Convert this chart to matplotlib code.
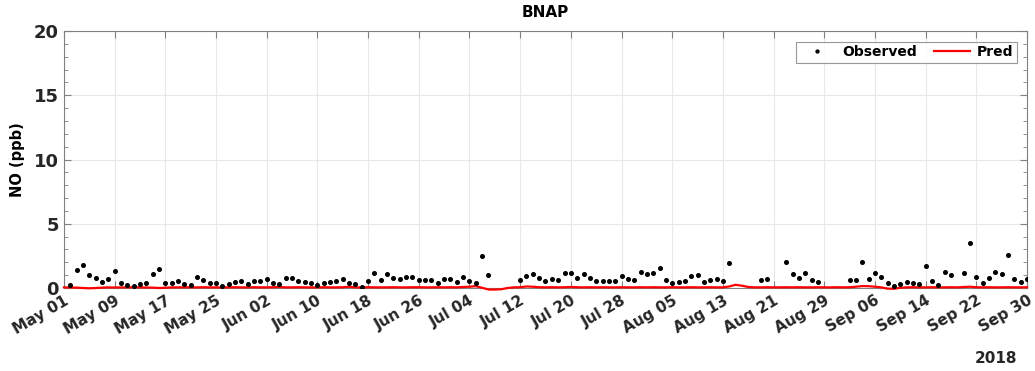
import numpy as np
import pandas as pd
import matplotlib
matplotlib.use("Agg")
import matplotlib.pyplot as plt
import matplotlib.dates as mdates
from matplotlib.ticker import MultipleLocator

# ---------------- data ----------------
start_date = "2018-05-01"
end_date = "2018-09-30"
title = "BNAP"
ylabel = "NO (ppb)"
year_label = "2018"
nan = np.nan

observed = [
    nan, 0.2, 1.4, 1.8, 1.0, 0.8, 0.47, 0.73, 1.33, 0.42,
    0.26, 0.13, 0.31, 0.36, 1.07, 1.5, 0.36, 0.36, 0.52, 0.31,
    0.23, 0.86, 0.65, 0.36, 0.36, 0.18, 0.31, 0.49, 0.57, 0.31,
    0.55, 0.57, 0.68, 0.42, 0.34, 0.81, 0.81, 0.52, 0.49, 0.39,
    0.26, 0.39, 0.44, 0.57, 0.70, 0.42, 0.31, 0.08, 0.52, 1.2,
    0.65, 1.07, 0.76, 0.73, 0.83, 0.86, 0.60, 0.60, 0.60, 0.36,
    0.68, 0.68, 0.49, 0.86, 0.55, 0.42, 2.5, 0.99, nan, nan,
    nan, nan, 0.62, 0.91, 1.12, 0.8, 0.55, 0.73, 0.65, 1.17,
    1.17, 0.81, 1.09, 0.76, 0.55, 0.55, 0.55, 0.55, 0.91, 0.73,
    0.62, 1.22, 1.09, 1.17, 1.54, 0.60, 0.39, 0.47, 0.55, 0.94,
    0.99, 0.47, 0.65, 0.70, 0.55, 1.95, nan, nan, nan, nan,
    0.65, 0.70, nan, nan, 2.03, 1.07, 0.81, 1.17, 0.65, 0.47,
    nan, nan, nan, nan, 0.60, 0.60, 2.0, 0.68, 1.2, 0.88,
    0.39, 0.18, 0.34, 0.44, 0.39, 0.34, 1.69, 0.55, 0.23, 1.27,
    1.02, nan, 1.17, 3.5, 0.86, 0.39, 0.81, 1.22, 1.12, 2.58,
    0.68, 0.49, 0.68,
]

pred = [
    0.05, 0.04, 0.03, 0.0, -0.02, 0.0, 0.03, 0.05, 0.04, 0.05,
    0.05, 0.06, 0.05, 0.04, 0.03, 0.0, 0.02, 0.05, 0.05, 0.06,
    0.05, 0.05, 0.06, 0.05, 0.05, 0.04, 0.05, 0.06, 0.05, 0.05,
    0.06, 0.05, 0.05, 0.06, 0.08, 0.05, 0.05, 0.06, 0.05, 0.05,
    0.05, 0.06, 0.05, 0.05, 0.06, 0.10, 0.05, 0.04, 0.06, 0.05,
    0.05, 0.05, 0.06, 0.05, 0.05, 0.06, 0.06, 0.05, 0.05, 0.06,
    0.05, 0.06, 0.05, 0.08, 0.10, 0.14, 0.02, -0.12, -0.12, -0.10,
    0.0, 0.05, 0.06, 0.12, 0.10, 0.06, 0.05, 0.06, 0.05, 0.06,
    0.08, 0.06, 0.05, 0.06, 0.05, 0.06, 0.05, 0.05, 0.06, 0.05,
    0.05, 0.06, 0.05, 0.06, 0.05, 0.05, 0.06, 0.05, 0.05, 0.06,
    0.05, 0.05, 0.06, 0.05, 0.05, 0.12, 0.25, 0.18, 0.08, 0.05,
    0.05, 0.06, 0.05, 0.05, 0.06, 0.05, 0.06, 0.05, 0.05, 0.06,
    0.05, 0.05, 0.06, 0.05, 0.06, 0.10, 0.15, 0.14, 0.10, 0.05,
    -0.05, -0.06, 0.02, 0.05, 0.06, 0.05, 0.05, 0.06, 0.05, 0.05,
    0.06, 0.05, 0.08, 0.10, 0.06, 0.05, 0.06, 0.05, 0.05, 0.06,
    0.05, 0.05, 0.06,
]

dates = pd.date_range(start_date, end_date, freq="D")

# ---------------- figure ----------------
fig = plt.figure(figsize=(10.35, 3.71), dpi=100)
ax = fig.add_axes([0.0618, 0.2237, 0.9305, 0.6927])

ax.plot(dates, observed, linestyle="none", marker="o", markersize=2.6,
        color="black", label="Observed", zorder=4)
ax.plot(dates, pred, color="red", linewidth=1.6, label="Pred", zorder=3,
        clip_on=False)

ax.set_xlim(dates[0], dates[-1])
ax.set_ylim(0, 20)
ax.yaxis.set_major_locator(MultipleLocator(5))
ax.yaxis.set_minor_locator(MultipleLocator(1))
tick_dates = pd.date_range(start_date, end_date, freq="8D")
ax.set_xticks(tick_dates)
ax.xaxis.set_major_formatter(mdates.DateFormatter("%b %d"))

ax.grid(True, which="major", color="#e8e8e8", linewidth=0.8)
ax.set_axisbelow(True)
for s in ax.spines.values():
    s.set_color("#808080")
    s.set_linewidth(0.8)

ax.tick_params(axis="both", which="both", direction="in", top=True, right=True,
               color="#808080")
ax.tick_params(axis="both", which="major", length=5, labelsize=11)
ax.tick_params(axis="both", which="minor", length=3)
for lbl in ax.get_xticklabels():
    lbl.set_rotation(30)
    lbl.set_ha("right")
    lbl.set_rotation_mode("anchor")
    lbl.set_fontweight("bold")
    lbl.set_color("#262626")
for lbl in ax.get_yticklabels():
    lbl.set_fontweight("bold")
    lbl.set_fontsize(13)
    lbl.set_color("#262626")

ax.set_title(title, fontsize=11, fontweight="bold", pad=10)
ax.set_ylabel(ylabel, fontsize=10.5, fontweight="bold")
ax.yaxis.set_label_coords(-0.04, 0.5)

leg = ax.legend(loc="upper right", ncol=2, frameon=True, fancybox=False,
                prop={"weight": "bold", "size": 10}, handlelength=2.6,
                columnspacing=1.2, handletextpad=0.5, borderpad=0.25,
                markerscale=0.8, bbox_to_anchor=(0.9965, 0.985))
leg.get_frame().set_edgecolor("#808080")
leg.get_frame().set_linewidth(0.8)

fig.text(0.962, 0.035, year_label, fontsize=11, fontweight="bold",
         ha="center", va="center", color="#262626")

fig.savefig("out.png", dpi=100)
